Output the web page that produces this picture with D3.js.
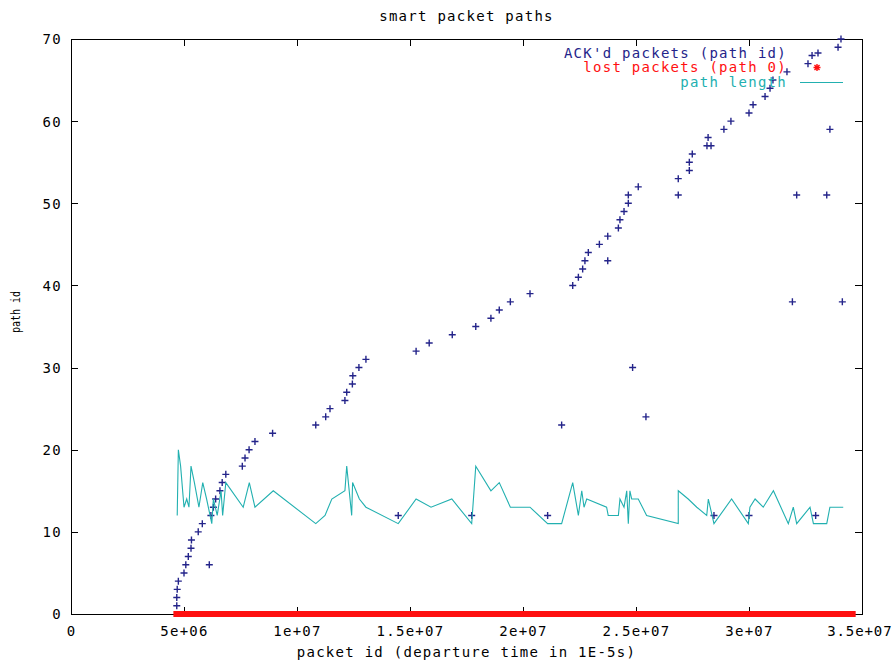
<!DOCTYPE html>
<html><head><meta charset="utf-8">
<script src="https://cdn.jsdelivr.net/npm/d3@7"></script>
<style>
html,body{margin:0;padding:0;background:#fff;}
svg{display:block;}
text{font-family:"DejaVu Sans Mono",monospace;font-size:14px;letter-spacing:1.27px;}
</style></head><body>
<svg id="chart" width="893" height="666"></svg>
<script>
const title = "smart packet paths";
const xLabel = "packet id (departure time in 1E-5s)";
const yLabel = "path id";
const xTicks = [0, 5e6, 1e7, 1.5e7, 2e7, 2.5e7, 3e7, 3.5e7];
const xTickLabels = ["0", "5e+06", "1e+07", "1.5e+07", "2e+07", "2.5e+07", "3e+07", "3.5e+07"];
const yTicks = [0, 10, 20, 30, 40, 50, 60, 70];
const seriesNames = ["ACK'd packets (path id)", "lost packets (path 0)", "path length"];

// ACK'd packets: departure time (millions of 1E-5s) and path id
const ackX = [4.68,4.68,4.70,4.75,5.00,5.08,5.19,5.31,5.33,5.63,5.81,
  6.12,6.19,6.30,6.40,6.59,6.69,6.85,7.58,7.70,7.88,8.14,8.92,10.83,11.27,11.46,12.12,12.20,12.45,12.47,12.74,13.05,
  14.48,15.27,15.85,16.87,17.73,17.91,18.58,18.95,19.44,20.31,21.09,21.71,
  22.20,22.45,22.64,22.74,22.89,23.38,23.75,23.75,24.22,24.29,24.47,24.66,24.66,24.85,25.10,25.44,
  26.87,26.87,27.36,27.36,27.49,28.14,28.32,28.19,28.45,28.89,29.20,30.00,30.00,30.18,30.71,30.93,31.06,31.68,31.92,32.11,32.61,32.79,32.95,33.44,33.58,33.94,34.07,34.13];
const ackY = [1,2,3,4,5,6,7,8,9,10,11,
  6,12,13,14,15,16,17,18,19,20,21,22,23,24,25,26,27,28,29,30,31,
  12,32,33,34,12,35,36,37,38,39,12,23,
  40,41,42,43,44,45,43,46,47,48,49,50,51,30,52,24,
  51,53,54,55,56,57,57,58,12,59,60,61,12,62,63,64,65,66,38,51,67,68,12,51,59,69,70,38];

// lost packets (path 0): dense run of points from first to last departure
const lostX = [4.53, 34.72];
const lostY = [0, 0];

// path length per packet
const plX = [4.70,4.75,4.85,5.00,5.12,5.22,5.31,5.46,5.66,5.83,6.00,6.23,6.30,6.47,6.64,6.71,6.85,7.62,7.89,8.14,
  8.95,10.83,11.24,11.54,12.12,12.20,12.42,12.46,12.76,13.05,14.48,15.27,15.93,16.85,17.73,17.91,18.58,18.95,19.44,20.31,
  21.09,21.71,22.20,22.45,22.60,22.70,22.82,23.70,23.77,24.22,24.29,24.47,24.59,24.66,24.73,24.81,25.10,25.47,26.87,26.87,
  27.31,27.69,28.13,28.20,28.45,29.23,29.97,30.04,30.27,30.63,31.08,31.74,31.96,32.11,32.70,32.85,33.44,33.58,34.17];
const plY = [12,20,18,13,14,13,18,16,13,16,14,11,14,12,15,12,16,13,16,13,
  15,11,12,14,15,18,12,16,14,13,11,14,13,14,11,18,15,16,13,13,
  11,11,16,12,15,13,14,13,12,12,14,13,15,11,15,14,14,12,11,15,
  14,13,12,14,11,14,11,13,14,13,15,11,13,11,13,11,11,13,13];

const M = 1e6;
const W = 893;
const pL = 71, pR = 862, pT = 39, pB = 614;
const colAck = "#24248a", colLost = "#ff1010", colLen = "#22b0b0";

const svg = d3.select("#chart");
const x = d3.scaleLinear().domain([0, 3.5e7]).range([pL, pR]);
const y = d3.scaleLinear().domain([0, 70]).range([pB, pT]);

// border
svg.append("rect").attr("x", pL).attr("y", pT).attr("width", pR-pL).attr("height", pB-pT)
  .attr("fill", "none").attr("stroke", "#000").attr("stroke-width", 1).attr("shape-rendering", "crispEdges");

const tl = 7;
const gx = svg.append("g").attr("transform", `translate(0,${pB})`)
  .call(d3.axisBottom(x).tickValues(xTicks).tickSize(-tl).tickFormat((d,i)=>xTickLabels[i]));
const gxt = svg.append("g").attr("transform", `translate(0,${pT})`)
  .call(d3.axisTop(x).tickValues(xTicks.slice(1, -1)).tickSize(-tl).tickFormat(""));
const gy = svg.append("g").attr("transform", `translate(${pL},0)`)
  .call(d3.axisLeft(y).tickValues(yTicks).tickSize(-tl).tickFormat(d3.format("d")));
const gyr = svg.append("g").attr("transform", `translate(${pR},0)`)
  .call(d3.axisRight(y).tickValues(yTicks.slice(1, -1)).tickSize(-tl).tickFormat(""));
[gx, gxt, gy, gyr].forEach(g => {
  g.select(".domain").remove();
  g.selectAll(".tick line").attr("stroke", "#000").attr("shape-rendering", "crispEdges");
  g.selectAll("text").attr("fill", "#000").style("font-family", '"DejaVu Sans Mono",monospace').style("font-size", "14px");
});
gx.selectAll(".tick").filter(d => d === 0).select("line").remove();
gy.selectAll(".tick").filter(d => d === 0 || d === 70).select("line").remove();
gx.selectAll("text").attr("dy", "0.35em").attr("y", 17);
gy.selectAll("text").attr("dy", "0.35em").attr("x", -9);
// keep the last x label inside the picture (the reference shows it at the right edge)
gx.selectAll(".tick").filter(d => d === xTicks[xTicks.length-1]).select("text")
  .attr("text-anchor", "end").attr("x", W - 1 - x(xTicks[xTicks.length-1])).style("letter-spacing", "0.9px");

// ACK'd packets markers
const plusPath = s => `M${-s},0H${s}M0,${-s}V${s}`;
const starPath = s => { const d = s*0.72; return `M${-s},0H${s}M0,${-s}V${s}M${-d},${-d}L${d},${d}M${-d},${d}L${d},${-d}`; };
svg.append("g").selectAll("path").data(ackX.map((v,i)=>[v*M, ackY[i]])).join("path")
  .attr("transform", d => `translate(${x(d[0])},${y(d[1])})`)
  .attr("d", plusPath(3.5)).attr("stroke", colAck).attr("stroke-width", 1.4).attr("fill", "none");

// lost packets band
svg.append("path").datum(lostX.map((v,i)=>[v*M, lostY[i]]))
  .attr("d", d3.line().x(d=>x(d[0])).y(d=>y(d[1])))
  .attr("stroke", colLost).attr("stroke-width", 6).attr("fill", "none");

// path length line
svg.append("path").datum(plX.map((v,i)=>[v*M, plY[i]]))
  .attr("d", d3.line().x(d=>x(d[0])).y(d=>y(d[1])))
  .attr("stroke", colLen).attr("stroke-width", 1.1).attr("fill", "none").attr("stroke-linejoin", "miter");

// legend
const lg = svg.append("g");
const lx = 787, ly = [57.5, 72, 86.5];
const lcol = [colAck, colLost, colLen];
seriesNames.forEach((n,i) => {
  lg.append("text").attr("x", lx).attr("y", ly[i]).attr("text-anchor", "end").attr("fill", lcol[i]).text(n);
});
lg.append("path").attr("transform", `translate(818,${ly[0]-4.5})`).attr("d", plusPath(3.5))
  .attr("stroke", colAck).attr("stroke-width", 1.4).attr("fill", "none");
lg.append("path").attr("transform", `translate(817,${ly[1]-4.5})`).attr("d", starPath(3.5))
  .attr("stroke", colLost).attr("stroke-width", 1.4).attr("fill", "none");
lg.append("line").attr("x1", 800).attr("x2", 843).attr("y1", ly[2]-4).attr("y2", ly[2]-4)
  .attr("stroke", colLen).attr("stroke-width", 1.1);

// titles
svg.append("text").attr("x", (pL+pR)/2).attr("y", 21).attr("text-anchor", "middle").attr("fill", "#000").text(title);
svg.append("text").attr("x", (pL+pR)/2).attr("y", 657).attr("text-anchor", "middle").attr("fill", "#000").text(xLabel);
svg.append("text").attr("transform", "translate(20,312) rotate(-90) scale(0.8,1)").attr("text-anchor", "middle")
  .attr("fill", "#000").style("font-size", "12.5px").style("letter-spacing", "0px").text(yLabel);
</script>
</body></html>
